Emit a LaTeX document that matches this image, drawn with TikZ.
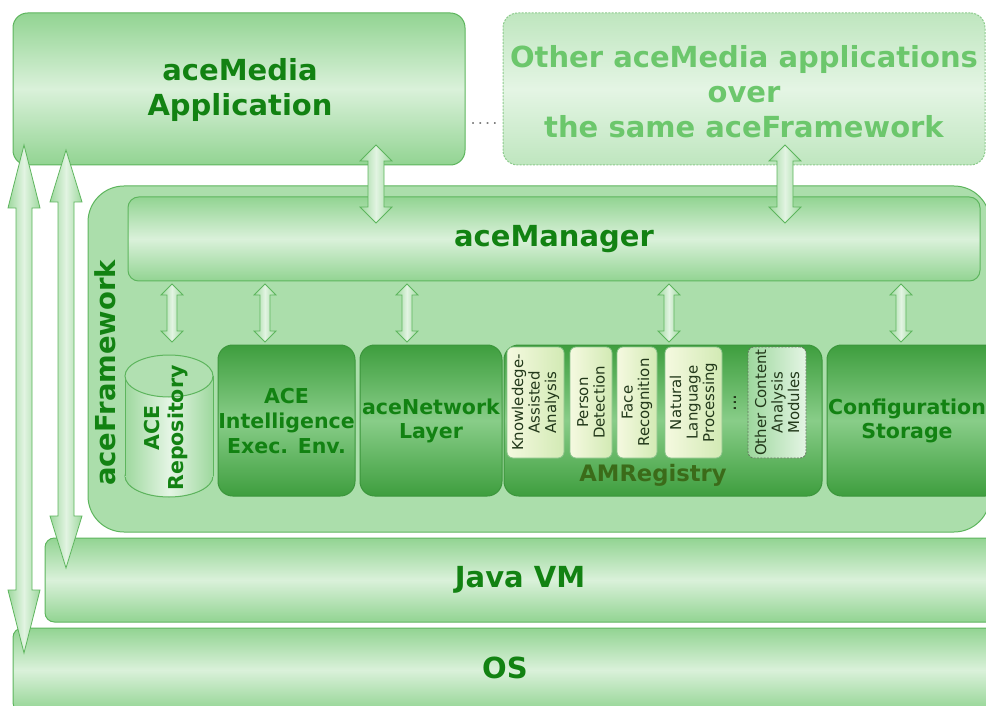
\documentclass[tikz,border=0pt]{standalone}
\usepackage{fontspec}
\setmainfont{DejaVu Sans}
\usetikzlibrary{fit}
\definecolor{txt}{HTML}{128212}
\definecolor{lgA}{HTML}{92D492}
\definecolor{lgB}{HTML}{DAF1DA}
\definecolor{bd}{HTML}{5DB55D}
\definecolor{fwc}{HTML}{ABDEAB}
\definecolor{dgA}{HTML}{3E9E3E}
\definecolor{dgB}{HTML}{88CD88}
\definecolor{dgbd}{HTML}{3C963C}
\definecolor{otA}{HTML}{BFE6BF}
\definecolor{otB}{HTML}{E4F5E4}
\definecolor{ottxt}{HTML}{6CC76C}
\definecolor{otbd}{HTML}{8CCB8C}
\definecolor{modtxt}{HTML}{22381A}
\definecolor{amc}{HTML}{3B6B19}
\definecolor{arA}{HTML}{9ED89E}
\definecolor{arB}{HTML}{E2F4E2}
\definecolor{mdA}{HTML}{F5F9E0}
\definecolor{mdB}{HTML}{D2EAB4}
\definecolor{mdbd}{HTML}{8CC48C}
\newcommand\fBig{\fontsize{21.75}{26.25}\selectfont\bfseries}
\newcommand\fFw{\fontsize{20.6}{24}\selectfont\bfseries}
\newcommand\fMid{\fontsize{15.4}{18.4}\selectfont\bfseries}
\newcommand\fAm{\fontsize{17}{18}\selectfont\bfseries}
\newcommand\fMod{\fontsize{11.2}{12.4}\selectfont}
\newcommand\vdarrow[6]{%
  \draw[arr] (#1,#2) -- (#1+#5,#2+#6) -- (#1+#4,#2+#6) -- (#1+#4,#3-#6) -- (#1+#5,#3-#6)
    -- (#1,#3) -- (#1-#5,#3-#6) -- (#1-#4,#3-#6) -- (#1-#4,#2+#6) -- (#1-#5,#2+#6) -- cycle;}
\tikzset{
  lightbox/.style={draw=bd, line width=0.75pt, top color=lgA, bottom color=lgA, middle color=lgB, rounded corners=#1, inner sep=0pt},
  lightbox/.default=7pt,
  darkbox/.style={draw=dgbd, line width=0.75pt, top color=dgA, bottom color=dgA, middle color=dgB, rounded corners=11pt, inner sep=0pt},
  otherbox/.style={draw=otbd, line width=0.75pt, dash pattern=on 1.5pt off 1pt, top color=otA, bottom color=otA, middle color=otB, rounded corners=11pt, inner sep=0pt},
  fwbox/.style={draw=bd, line width=0.75pt, fill=fwc, rounded corners=27pt, inner sep=0pt},
  modbox/.style={draw=mdbd, line width=0.6pt, left color=mdA, right color=mdB, rounded corners=4.5pt, inner sep=0pt},
  othmod/.style={draw=modtxt!70, line width=0.6pt, dash pattern=on 1.5pt off 1pt, left color=arA, right color=otB, rounded corners=4.5pt, inner sep=0pt},
  lbl/.style={text=txt, align=center, inner sep=0pt},
  modlbl/.style={text=modtxt, align=center, inner sep=0pt, font=\fMod, rotate=90},
  arr/.style={draw=bd, line width=0.6pt, left color=arA, right color=arA, middle color=arB},
}
\begin{document}
\begin{tikzpicture}[x=0.75pt,y=-0.75pt]
\useasboundingbox (0,0) rectangle (986,706);
\clip (0,0) rectangle (986,706);

% framework background
\node[fwbox, fit={(88,186) (990,532)}] (fw) {};
\node[lbl, font=\fFw, rotate=90] (fwl) at (105,373) {aceFramework};

% applications
\node[lightbox=11pt, fit={(13,13) (465,165)}] (app) {};
\node[lbl, font=\fBig] (appl) at (240,90) {aceMedia\\Application};
\node[otherbox, fit={(503,13) (985,165)}] (other) {};
\node[lbl, text=ottxt, font=\fBig] (otherl) at (744,92) {Other aceMedia applications\\over\\the same aceFramework};
\node[text=gray, inner sep=0pt, font=\fontsize{12}{12}\selectfont] (dots) at (484,124) {.\kern1.6pt.\kern1.6pt.\kern1.6pt.};

% aceManager
\node[lightbox=8pt, fit={(128,197) (980,281)}] (mgr) {};
\node[lbl, font=\fBig] (mgrl) at (mgr.center) {aceManager};

% repository cylinder
\fill[left color=arA, right color=arA, middle color=otB] (169,476) ellipse [x radius=33pt, y radius=15.75pt];
\draw[bd, line width=0.75pt] (169,476) ellipse [x radius=33pt, y radius=15.75pt];
\fill[left color=arA, right color=arA, middle color=otB] (125,376) rectangle (213,476);
\draw[bd, line width=0.75pt] (125,376) -- (125,476) (213,376) -- (213,476);
\draw[bd, line width=0.75pt, fill=fwc!90!otB] (169,376) ellipse [x radius=33pt, y radius=15.75pt];
\node[lbl, font=\fMid, rotate=90] (repo) at (166,428) {ACE\\Repository};

% dark boxes
\node[darkbox, fit={(218,345) (355,496)}] (iee) {};
\node[lbl, font=\fMid] (ieel) at (286.5,421) {ACE\\Intelligence\\Exec. Env.};
\node[darkbox, fit={(360,345) (502,496)}] (net) {};
\node[lbl, font=\fMid] (netl) at (431,421) {aceNetwork\\Layer};
\node[darkbox, fit={(504,345) (822,496)}] (amr) {};
\node[lbl, font=\fAm, text=amc] (amrl) at (653,475) {AMRegistry};
\node[darkbox, fit={(827,345) (1000,496)}] (cfg) {};
\node[lbl, font=\fMid] (cfgl) at (907,421) {Configuration\\Storage};

% analysis modules
\node[modbox, fit={(507,347) (564,458)}] (m1) {};
\node[modlbl] at (m1.center) {Knowledege-\\Assisted\\Analysis};
\node[modbox, fit={(570,347) (612,458)}] (m2) {};
\node[modlbl] at (m2.center) {Person\\Detection};
\node[modbox, fit={(617,347) (657,458)}] (m3) {};
\node[modlbl] at (m3.center) {Face\\Recognition};
\node[modbox, fit={(665,347) (722,458)}] (m4) {};
\node[modlbl] at (m4.center) {Natural\\Language\\Processing};
\node[modlbl, font=\fontsize{14}{14}\selectfont] (mdots) at (735,403) {...};
\node[othmod, fit={(748,347) (806,458)}] (m5) {};
\node[modlbl] at (m5.center) {Other Content\\Analysis\\Modules};

% Java VM and OS
\node[lightbox=7pt, fit={(45,538) (1000,622)}] (jvm) {};
\node[lbl, font=\fBig] (jvml) at (520,580) {Java VM};
\node[lightbox=7pt, fit={(13,628) (1000,712)}] (os) {};
\node[lbl, font=\fBig] (osl) at (505,668) {OS};

% arrows
\vdarrow{376}{145}{223}{8}{16}{16}
\vdarrow{785}{145}{223}{8}{16}{16}
\vdarrow{172}{284}{342}{5}{11}{11}
\vdarrow{265}{284}{342}{5}{11}{11}
\vdarrow{407}{284}{342}{5}{11}{11}
\vdarrow{669}{284}{342}{5}{11}{11}
\vdarrow{901}{284}{342}{5}{11}{11}
\vdarrow{24}{145}{653}{8}{16}{63}
\vdarrow{66}{150}{568}{8}{16}{52}
\end{tikzpicture}
\end{document}
